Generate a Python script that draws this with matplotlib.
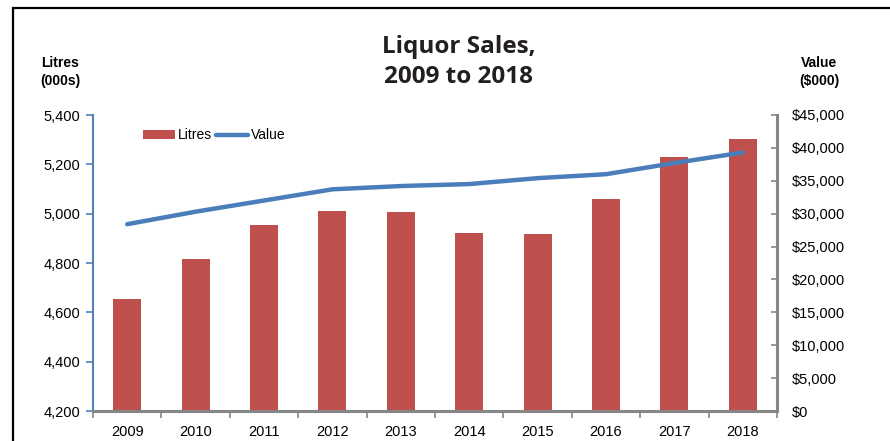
import numpy as np
import matplotlib.pyplot as plt
from matplotlib.patches import Rectangle
from matplotlib.ticker import FuncFormatter, FixedLocator

# data
years = ['2009', '2010', '2011', '2012', '2013', '2014', '2015', '2016', '2017', '2018']
litres = [4655, 4816, 4954, 5012, 5005, 4923, 4917, 5059, 5231, 5301]  # 000s
value = [28400, 30300, 32000, 33700, 34200, 34500, 35400, 36000, 37700, 39300]  # $000

bar_color = '#c0504d'
line_color = '#4a7ebb'
grey = '#868686'

plt.rcParams['font.family'] = ['Liberation Sans', 'DejaVu Sans']

fig = plt.figure(figsize=(8.9, 4.41), dpi=100)
ax = fig.add_axes([93 / 890, 1 - 411 / 441, (777 - 93) / 890, (411 - 115) / 441])

x = np.arange(len(years))
bars = ax.bar(x, litres, width=0.41, color=bar_color, label='Litres', zorder=2)
ax.set_ylim(4200, 5400)
ax.set_xlim(-0.5, len(years) - 0.5)
ax.yaxis.set_major_locator(FixedLocator(np.arange(4200, 5401, 200)))
ax.yaxis.set_major_formatter(FuncFormatter(lambda v, p: f'{v:,.0f}'))

# x ticks between categories, labels at centres
ax.set_xticks(np.arange(-0.5, len(years), 1.0))
ax.set_xticklabels([])
ax.set_xticks(x, minor=True)
ax.set_xticklabels(years, minor=True)
ax.tick_params(axis='x', which='major', length=5, width=1.2, color=grey, direction='out')
ax.tick_params(axis='x', which='minor', length=0, pad=10, labelsize=10.5)
ax.tick_params(axis='y', length=5, width=1.2, color='#4f81bd', direction='out', labelsize=10.5, pad=4)

ax.spines['top'].set_visible(False)
ax.spines['right'].set_visible(False)
ax.spines['left'].set_color('#4f81bd')
ax.spines['left'].set_linewidth(1.5)
ax.spines['bottom'].set_color(grey)
ax.spines['bottom'].set_linewidth(2.2)
ax.spines['bottom'].set_zorder(4)

ax2 = ax.twinx()
line, = ax2.plot(x, value, color=line_color, linewidth=3.2, label='Value',
                 solid_capstyle='round', zorder=3)
ax2.set_ylim(0, 45000)
ax2.yaxis.set_major_locator(FixedLocator(np.arange(0, 45001, 5000)))
ax2.yaxis.set_major_formatter(FuncFormatter(lambda v, p: f'${v:,.0f}'))
ax2.tick_params(axis='y', length=4, width=1.2, color=grey, direction='in', labelsize=10.5, pad=11)
for s in ['top', 'left', 'bottom']:
    ax2.spines[s].set_visible(False)
ax2.spines['right'].set_color(grey)
ax2.spines['right'].set_linewidth(2.2)

leg = ax.legend([bars, line], ['Litres', 'Value'], loc='upper left', bbox_to_anchor=(0.055, 0.997),
                ncol=2, frameon=False, fontsize=10, handlelength=2.3, handletextpad=0.2,
                columnspacing=0.3, handleheight=0.6)

# titles
title_font = ['Open Sans', 'DejaVu Sans']
fig.text(0.515, 1 - 47 / 441, 'Liquor Sales,', ha='center', va='center',
         fontsize=17.5, fontweight='bold', family=title_font, color='#231f20')
fig.text(0.515, 1 - 77 / 441, '2009 to 2018', ha='center', va='center',
         fontsize=17.5, fontweight='bold', family=title_font, color='#231f20')
fig.text(60 / 890, 1 - 72 / 441, 'Litres\n(000s)', ha='center', va='center',
         fontsize=10, fontweight='bold', linespacing=1.45)
fig.text(819 / 890, 1 - 72 / 441, 'Value\n($000)', ha='center', va='center',
         fontsize=10, fontweight='bold', linespacing=1.45)

# outer frame
fig.patches.append(Rectangle((13 / 890, -0.1), 1.2, 1 - 8 / 441 + 0.1, transform=fig.transFigure,
                             fill=False, edgecolor='black', linewidth=1.6))

fig.savefig('out.png', dpi=100)
